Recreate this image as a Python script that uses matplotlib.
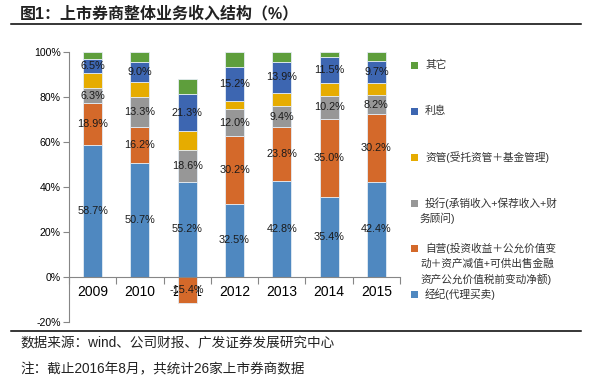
import matplotlib
matplotlib.use("Agg")
import matplotlib.pyplot as plt
import numpy as np
from matplotlib.patches import Rectangle
from matplotlib.lines import Line2D

plt.rcParams['font.family'] = ['Liberation Sans', 'Noto Sans CJK SC', 'DejaVu Sans']

years = ['2009', '2010', '2011', '2012', '2013', '2014', '2015']
brokerage = [58.7, 50.7, 55.2, 32.5, 42.8, 35.4, 42.4]      # 经纪
proprietary = [18.9, 16.2, -15.4, 30.2, 23.8, 35.0, 30.2]   # 自营
ib = [6.3, 13.3, 18.6, 12.0, 9.4, 10.2, 8.2]                # 投行
am = [6.7, 6.5, 11.2, 3.4, 6.0, 5.7, 5.7]                   # 资管
interest = [6.5, 9.0, 21.3, 15.2, 13.9, 11.5, 9.7]          # 利息
other = [2.9, 4.3, 9.1, 6.7, 4.1, 2.2, 3.8]                 # 其它

series = [
    ('经纪(代理买卖)', brokerage, '#4F88C0', True),
    ('自营', proprietary, '#D4692A', True),
    ('投行', ib, '#979797', True),
    ('资管', am, '#E6AC00', False),
    ('利息', interest, '#3D66B1', True),
    ('其它', other, '#5E9E3C', False),
]

W, H = 591, 378
fig = plt.figure(figsize=(W / 100, H / 100), dpi=100)
ax = fig.add_axes([69 / W, 1 - 321.7 / H, (400 - 69) / W, (321.7 - 52.3) / H])

vals = np.array([s[1] for s in series], dtype=float)
# 100% stacked: normalise by the sum of absolute values (as Excel does)
norm = vals / np.abs(vals).sum(axis=0) * 100

x = np.arange(len(years))
pos_base = np.zeros(len(years))
neg_base = np.zeros(len(years))
for i, (name, raw, color, show) in enumerate(series):
    h = norm[i]
    bottoms = np.where(h >= 0, pos_base, neg_base)
    ax.bar(x, h, width=0.4, bottom=bottoms, color=color,
           edgecolor='#E4ECF4', linewidth=0.6, zorder=2)
    if show:
        for xi, b, hh, r in zip(x, bottoms, h, raw):
            ax.text(xi, b + hh / 2, f'{r:.1f}%', ha='center', va='center',
                    fontsize=7.8, color='#1a1a1a', zorder=4)
    pos_base = pos_base + np.where(h >= 0, h, 0)
    neg_base = neg_base + np.where(h < 0, h, 0)

ax.set_xlim(-0.5, len(years) - 0.5)
ax.set_ylim(-20, 100)
ax.set_yticks(np.arange(-20, 101, 20))
ax.set_yticklabels([f'{v}%' for v in range(-20, 101, 20)], fontsize=7.6)
ax.tick_params(axis='y', direction='out', length=4, color='#868686', width=0.8, pad=2)

ax.set_xticks(np.arange(-0.5, len(years), 1.0))
ax.set_xticklabels([])
ax.set_xticks(x, minor=True)
ax.set_xticklabels(years, minor=True, fontsize=7.6)
ax.tick_params(axis='x', which='major', direction='out', length=5, color='#868686', width=0.8)
ax.tick_params(axis='x', which='minor', length=0, pad=6)

for s in ['top', 'right']:
    ax.spines[s].set_visible(False)
ax.spines['bottom'].set_position(('data', 0))
ax.spines['bottom'].set_color('#868686')
ax.spines['left'].set_color('#868686')
ax.spines['bottom'].set_linewidth(0.8)
ax.spines['left'].set_linewidth(0.8)
ax.spines['bottom'].set_zorder(3)

# Title and rules
fig.text(20 / W, 1 - 13 / H, '图1：上市券商整体业务收入结构（%）', fontsize=11.5,
         fontweight='bold', ha='left', va='center', color='#222222')
fig.add_artist(Line2D([11 / W, 581 / W], [1 - 24 / H] * 2, color='black', lw=1.1))
fig.add_artist(Line2D([11 / W, 581 / W], [1 - 330.7 / H] * 2, color='black', lw=1.1))
fig.text(20.7 / W, 1 - 343.3 / H, '数据来源：wind、公司财报、广发证券发展研究中心',
         fontsize=9.8, ha='left', va='center', color='#222222')
fig.text(20.7 / W, 1 - 369 / H, '注：截止2016年8月，共统计26家上市券商数据',
         fontsize=9.8, ha='left', va='center', color='#222222')

# Legend
legend_items = [
    ('#5E9E3C', 65, ['其它']),
    ('#3D66B1', 111, ['利息']),
    ('#E6AC00', 157.3, ['资管(受托资管＋基金管理)']),
    ('#979797', 203.3, ['投行(承销收入+保荐收入+财', '务顾问)']),
    ('#D4692A', 248.3, ['自营(投资收益＋公允价值变', '动＋资产减值+可供出售金融', '资产公允价值税前变动净额)']),
    ('#4F88C0', 294.3, ['经纪(代理买卖)']),
]
line_gap = 15.3
for color, yc, lines in legend_items:
    fig.add_artist(Rectangle((411 / W, 1 - (yc + 3.5) / H), 7 / W, 7 / H,
                             transform=fig.transFigure, facecolor=color, edgecolor='none'))
    for k, t in enumerate(lines):
        xs = 425 / W if k == 0 else 420 / W
        fig.text(xs, 1 - (yc + k * line_gap) / H, t, fontsize=7.7, ha='left',
                 va='center', color='#333333')

fig.savefig('out.png', dpi=100)
